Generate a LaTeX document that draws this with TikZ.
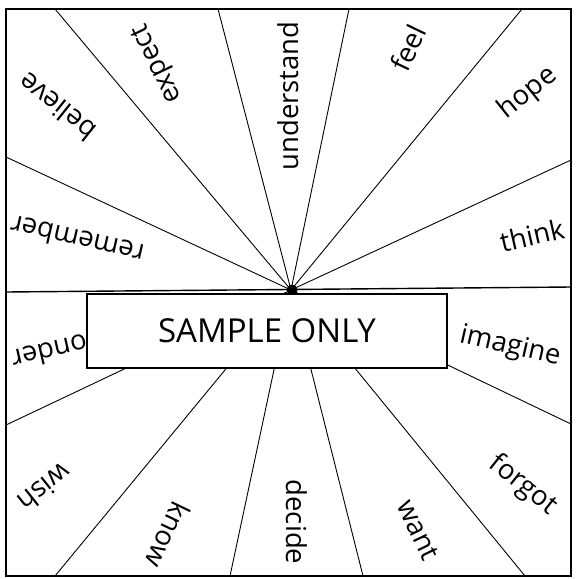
\documentclass[tikz,border=0pt]{standalone}
\usepackage{fontspec}
\setmainfont{Open Sans}
\newfontfamily\boxfont{Open Sans}
\begin{document}
\begin{tikzpicture}[x=1pt,y=-1pt,
  lbl/.style={inner sep=0pt,font=\fontsize{27.5}{30}\selectfont},
  ray/.style={line width=0.9pt},
  frame/.style={line width=1.4pt},
  samplebox/.style={draw,line width=2pt,fill=white,minimum width=360pt,minimum height=74pt,inner sep=0pt,font=\boxfont\fontsize{33}{36}\selectfont}]
\useasboundingbox (0,0) rectangle (585,578);
% frame
\draw[frame] (6,9) rectangle (571,576);
\coordinate (c) at (291,290);
\coordinate (dl) at (6,292);
\coordinate (dr) at (571,287);
\draw[frame] (dl) -- (dr);
% ray ends
\coordinate (e1) at (571,160);
\coordinate (e2) at (522,9);
\coordinate (e3) at (349,9);
\coordinate (e4) at (218,9);
\coordinate (e5) at (55,9);
\coordinate (e6) at (6,157);
\coordinate (e7) at (6,425);
\coordinate (e8) at (55,576);
\coordinate (e9) at (230,576);
\coordinate (e10) at (363,576);
\coordinate (e11) at (525,576);
\coordinate (e12) at (571,424);
\draw[ray] (c) -- (e1);
\draw[ray] (c) -- (e2);
\draw[ray] (c) -- (e3);
\draw[ray] (c) -- (e4);
\draw[ray] (c) -- (e5);
\draw[ray] (c) -- (e6);
\draw[ray] (c) -- (e7);
\draw[ray] (c) -- (e8);
\draw[ray] (c) -- (e9);
\draw[ray] (c) -- (e10);
\draw[ray] (c) -- (e11);
\draw[ray] (c) -- (e12);
% labels
\node[lbl,rotate=12.86]  (think)      at (532,235) {think};
\node[lbl,rotate=38.57]  (hope)       at (528,93)  {hope};
\node[lbl,rotate=64.29]  (feel)       at (408,48)  {feel};
\node[lbl,rotate=90]     (understand) at (288,96)  {understand};
\node[lbl,rotate=115.71] (expect)     at (158,63)  {expect};
\node[lbl,rotate=141.43] (believe)    at (57,107)  {believe};
\node[lbl,rotate=167.14] (remember)   at (77,240)  {remember};
\node[lbl,rotate=192.86] (wonder)     at (60,350)  {wonder};
\node[lbl,rotate=218.57] (wish)       at (45,488)  {wish};
\node[lbl,rotate=244.29] (know)       at (168,535) {know};
\node[lbl,rotate=270]    (decide)     at (297,522) {decide};
\node[lbl,rotate=295.71] (want)       at (418,530) {want};
\node[lbl,rotate=321.43] (forgot)     at (523,485) {forgot};
\node[lbl,rotate=347.14] (imagine)    at (510,347) {imagine};
% center dot
\fill (292,290) circle[radius=5.5pt];
% box
\node[samplebox] (sample) at (267,331) {SAMPLE ONLY};
\end{tikzpicture}
\end{document}
